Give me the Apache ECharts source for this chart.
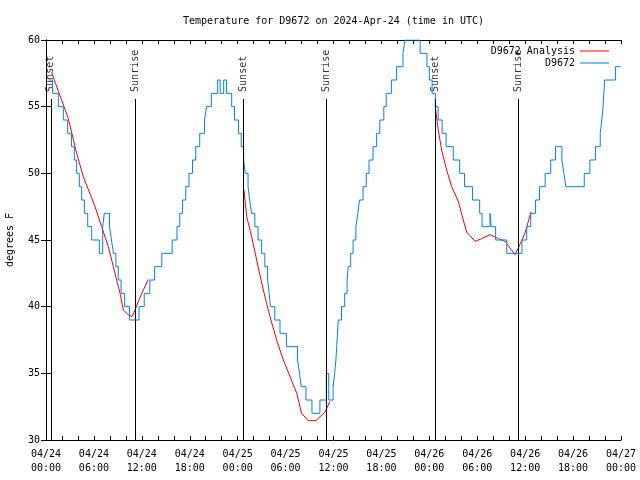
<!DOCTYPE html>
<html>
<head>
<meta charset="utf-8">
<script src="https://cdn.jsdelivr.net/npm/echarts@6/dist/echarts.min.js"></script>
<style>html,body{margin:0;padding:0;background:#fff}#c{width:640px;height:480px}</style>
</head>
<body>
<div id="c"></div>
<script>
// Hours since 2024-04-24 00:00 UTC
const xTickLabels = ['04/24\n00:00','04/24\n06:00','04/24\n12:00','04/24\n18:00',
  '04/25\n00:00','04/25\n06:00','04/25\n12:00','04/25\n18:00',
  '04/26\n00:00','04/26\n06:00','04/26\n12:00','04/26\n18:00','04/27\n00:00'];

// Observations (D9672): hour at which each reading begins, and its value (F)
const obsHours = [0.3,0.83,1.54,2.17,2.71,3.2,3.55,3.84,4.17,4.47,4.8,5.22,5.72,6.68,7.1,7.3,
  7.95,8.2,8.45,8.75,9.05,9.4,9.85,10.45,11.65,12.3,13.0,13.6,14.5,15.8,16.4,16.75,17.1,17.5,
  17.9,18.35,18.75,19.25,19.85,20.1,20.7,21.5,21.8,22.25,22.6,23.25,23.6,24.1,24.45,24.75,
  24.95,25.3,25.5,25.75,26.15,26.55,27.0,27.4,27.75,27.95,28.1,28.65,29.3,30.1,31.5,31.75,
  31.95,32.55,33.3,34.3,35.1,35.4,35.95,36.15,36.3,36.4,36.5,36.6,37.0,37.4,37.7,37.85,38.15,
  38.45,38.8,39.05,39.25,39.7,40.1,40.45,40.95,41.4,41.8,42.3,42.6,43.25,43.9,44.7,44.95,
  46.85,47.7,48.0,48.35,48.75,49.1,49.6,50.1,51.0,51.8,52.4,53.4,54.3,54.6,55.6,55.75,56.3,
  57.7,59.6,60.2,60.7,61.3,61.8,62.5,63.2,63.8,64.6,64.85,65.1,67.4,68.1,68.8,69.4,69.6,
  69.75,69.85,69.95,71.3,71.95];
const obsTemps = [57,56,55,54,53,52,51,50,49,48,47,46,45,44,46,47,
  46,45,44,43,42,41,40,39,40,41,42,43,44,45,46,47,48,49,
  50,51,52,53,54,55,56,57,56,57,56,55,54,53,52,51,
  50,49,48,47,46,45,44,43,42,41,40,39,38,37,36,35,
  34,33,32,33,35,33,34,35,36,37,38,39,40,41,42,43,44,
  45,46,47,48,49,50,51,52,53,54,55,56,57,58,59,60,
  59,58,57,56,55,54,53,52,51,50,49,48,47,46,47,46,45,
  44,45,46,47,48,49,50,51,52,51,50,49,50,51,52,53,54,
  55,56,57,58,58];

// Analysis (D9672 Analysis): three overnight segments
const anaHours1 = [0.71,2.8,3.84,4.67,6.14,6.97,7.8,8.43,9.27,9.68,10.3,10.73,11.06,11.56,12.19,12.81];
const anaTemps1 = [57.55,54.1,51.5,49.75,47.5,46,44.5,43,41,39.75,39.4,39.25,39.6,40.4,41.25,42.05];
const anaHours2 = [24.79,25.13,25.75,26.38,27.21,28.05,28.88,29.72,30.56,31.4,32.0,32.85,33.8,34.93,35.56];
const anaTemps2 = [48.75,46.75,45.25,43.5,41.25,39.25,37.5,36,34.75,33.5,32,31.45,31.45,32.1,32.9];
const anaHours3 = [48.79,49.12,49.54,50.17,50.8,51.63,52.25,52.67,53.72,54.55,55.6,56.65,57.48,58.72,59.14,59.97,60.73];
const anaTemps3 = [54.75,53.25,51.75,50.25,49,47.9,46.5,45.6,44.9,45.1,45.4,45.1,44.9,43.9,44.4,45.5,47.1];

// Sun events
const eventNames = ['Sunset','Sunrise','Sunset','Sunrise','Sunset','Sunrise'];
const eventHours = [0.6,11.18,24.7,35.1,48.75,59.13];

const FONT = 'DejaVu Sans Mono';
const zip = (a, b) => a.map((v, i) => [v, b[i]]);
const anaData = zip(anaHours1, anaTemps1).concat([[13, '-']], zip(anaHours2, anaTemps2), [[36, '-']], zip(anaHours3, anaTemps3));
const obsData = zip(obsHours, obsTemps);
const eventTop = 55.58;

const chart = echarts.init(document.getElementById('c'), null, {renderer: 'canvas'});
const axCommon = {
  axisLine: {show: true, lineStyle: {color: '#000', width: 1}},
  splitLine: {show: false},
  axisTick: {show: true, inside: true, length: 4, lineStyle: {color: '#000'}},
};
chart.setOption({
  animation: false,
  backgroundColor: '#fff',
  title: {
    text: 'Temperature for D9672 on 2024-Apr-24 (time in UTC)',
    left: 183, top: 16, padding: 0,
    textStyle: {fontFamily: FONT, fontSize: 10, fontWeight: 'normal', color: '#000'}
  },
  legend: [
    {data: ['D9672 Analysis'], right: 31, top: 46, padding: 0, orient: 'vertical', align: 'right',
     icon: 'rect', itemWidth: 29, itemHeight: 1, selectedMode: false,
     textStyle: {fontFamily: FONT, fontSize: 10, color: '#000'}},
    {data: ['D9672'], right: 31, top: 58, padding: 0, orient: 'vertical', align: 'right',
     icon: 'rect', itemWidth: 29, itemHeight: 1, selectedMode: false,
     textStyle: {fontFamily: FONT, fontSize: 10, color: '#000'}}
  ],
  grid: {left: 46, right: 19, top: 40, bottom: 40, containLabel: false, outerBoundsMode: 'none'},
  xAxis: [
    Object.assign({}, axCommon, {
      type: 'value', min: 0, max: 72, interval: 6, position: 'bottom',
      minorTick: {show: true, splitNumber: 3, length: 4, lineStyle: {color: '#000'}},
      axisLabel: {fontFamily: FONT, fontSize: 10, color: '#000', margin: 7, lineHeight: 14,
        formatter: v => xTickLabels[Math.round(v / 6)]}
    }),
    Object.assign({}, axCommon, {
      type: 'value', min: 0, max: 72, interval: 6, position: 'top',
      minorTick: {show: true, splitNumber: 3, length: 4, lineStyle: {color: '#000'}},
      axisLabel: {show: false}
    })
  ],
  yAxis: [
    Object.assign({}, axCommon, {
      type: 'value', min: 30, max: 60, interval: 5, position: 'left',
      axisTick: {show: true, inside: true, length: 5, lineStyle: {color: '#000'}},
      axisLabel: {fontFamily: FONT, fontSize: 10, color: '#000', margin: 6},
      name: 'degrees F', nameLocation: 'middle', nameGap: 31, nameRotate: 90,
      nameTextStyle: {fontFamily: FONT, fontSize: 10, color: '#000'}
    }),
    Object.assign({}, axCommon, {
      type: 'value', min: 30, max: 60, interval: 5, position: 'right',
      axisTick: {show: true, inside: true, length: 5, lineStyle: {color: '#000'}},
      axisLabel: {show: false}
    })
  ],
  series: [
    {
      name: 'events', type: 'scatter', symbolSize: 0, silent: true,
      data: eventHours.map((h, i) => ({value: [h, eventTop], name: eventNames[i]})),
      label: {show: true, position: 'top', distance: 7, rotate: 90, align: 'left', verticalAlign: 'middle',
        formatter: p => p.name, fontFamily: FONT, fontSize: 10, color: '#000'},
      markLine: {
        silent: true, symbol: 'none', animation: false,
        label: {show: false},
        lineStyle: {color: '#000', width: 1, type: 'solid'},
        data: eventHours.map(h => [{coord: [h, eventTop]}, {coord: [h, 30]}])
      }
    },
    {
      name: 'D9672 Analysis', type: 'line', data: anaData, showSymbol: false, connectNulls: false,
      color: '#ff0000', lineStyle: {color: '#ff0000', width: 1}, itemStyle: {color: '#ff0000'}
    },
    {
      name: 'D9672', type: 'line', data: obsData, step: 'end', showSymbol: false,
      color: '#0080ff', lineStyle: {color: '#0080ff', width: 1}, itemStyle: {color: '#0080ff'}
    }
  ]
});
</script>
</body>
</html>
